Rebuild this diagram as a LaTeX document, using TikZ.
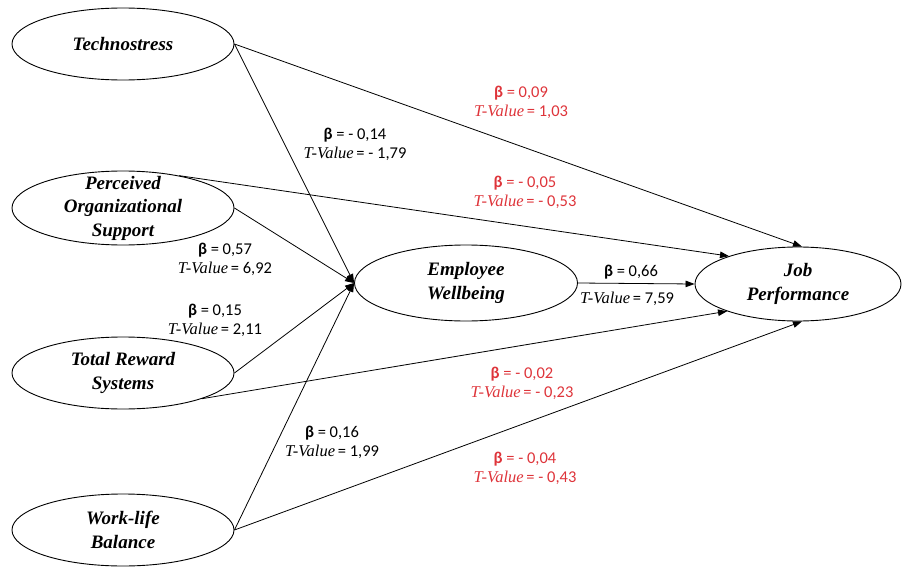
\documentclass[tikz,border=0pt]{standalone}
\usepackage{fontspec}
\setmainfont{Liberation Serif}
\newfontfamily\calib{Carlito}
\usetikzlibrary{shapes.geometric,arrows.meta}
\definecolor{valred}{RGB}{222,52,58}
\newcommand{\bval}[1]{{\calib\textbf{β} = #1}}
\newcommand{\tval}[1]{\textit{T-Value}{\calib\,= #1}}
\begin{document}
\begin{tikzpicture}[x=1pt,y=-1pt,
  construct/.style={draw, line width=0.9pt, ellipse, inner sep=0pt},
  ctext/.style={align=center, inner sep=0pt, font=\fontsize{19}{23.5}\selectfont\bfseries\itshape},
  val/.style={align=center, inner sep=0pt, font=\fontsize{16.5}{19}\selectfont},
  redval/.style={val, text=valred},
  path/.style={line width=0.8pt, -{Triangle[length=9pt,width=6.5pt]}}]
\useasboundingbox (0,0) rectangle (907,567);
% constructs
\node[construct, minimum width=222pt, minimum height=72pt] (tech) at (123,44) {};
\node[construct, minimum width=222pt, minimum height=74pt] (pos) at (123,208) {};
\node[construct, minimum width=222pt, minimum height=72pt] (trs) at (123,373) {};
\node[construct, minimum width=222pt, minimum height=72pt] (wlb) at (123,530) {};
\node[construct, minimum width=223pt, minimum height=76pt] (ew) at (466,283) {};
\node[construct, minimum width=206pt, minimum height=74pt] (jp) at (798,284) {};
\node[ctext] (tech-t) at (tech) {Technostress};
\node[ctext] (pos-t) at (pos) {Perceived\\Organizational\\Support};
\node[ctext] (trs-t) at (trs) {Total Reward\\Systems};
\node[ctext] (wlb-t) at (wlb) {Work-life\\Balance};
\node[ctext] (ew-t) at (ew) {Employee\\Wellbeing};
\node[ctext] (jp-t) at (jp) {Job\\Performance};
% paths to employee wellbeing
\draw[path] (tech.east) -- (ew.west);
\draw[path] (pos.east) -- (ew.west);
\draw[path] (trs.east) -- (ew.west);
\draw[path] (wlb.east) -- (ew.west);
% paths to job performance
\draw[path] (tech.east) -- (jp.84);
\draw[path] (pos.30) -- (jp.158);
\draw[path] (ew.east) -- (jp.west);
\draw[path] (trs.-18) -- (jp.201);
\draw[path] (wlb.east) -- (jp.-84);
% values
\node[val] (v-te) at (355,144) {\bval{- 0,14}\\\tval{- 1,79}};
\node[val] (v-pe) at (225,259) {\bval{0,57}\\\tval{6,92}};
\node[val] (v-re) at (215,320) {\bval{0,15}\\\tval{2,11}};
\node[val] (v-we) at (332,442) {\bval{0,16}\\\tval{1,99}};
\node[val] (v-ej1) at (631,272) {\bval{0,66}};
\node[val] (v-ej2) at (627,299) {\tval{7,59}};
\node[redval] (v-tj) at (521,102) {\bval{0,09}\\\tval{1,03}};
\node[redval] (v-pj) at (525,192) {\bval{- 0,05}\\\tval{- 0,53}};
\node[redval] (v-rj) at (522,383) {\bval{- 0,02}\\\tval{- 0,23}};
\node[redval] (v-wj) at (525,468) {\bval{- 0,04}\\\tval{- 0,43}};
\end{tikzpicture}
\end{document}
